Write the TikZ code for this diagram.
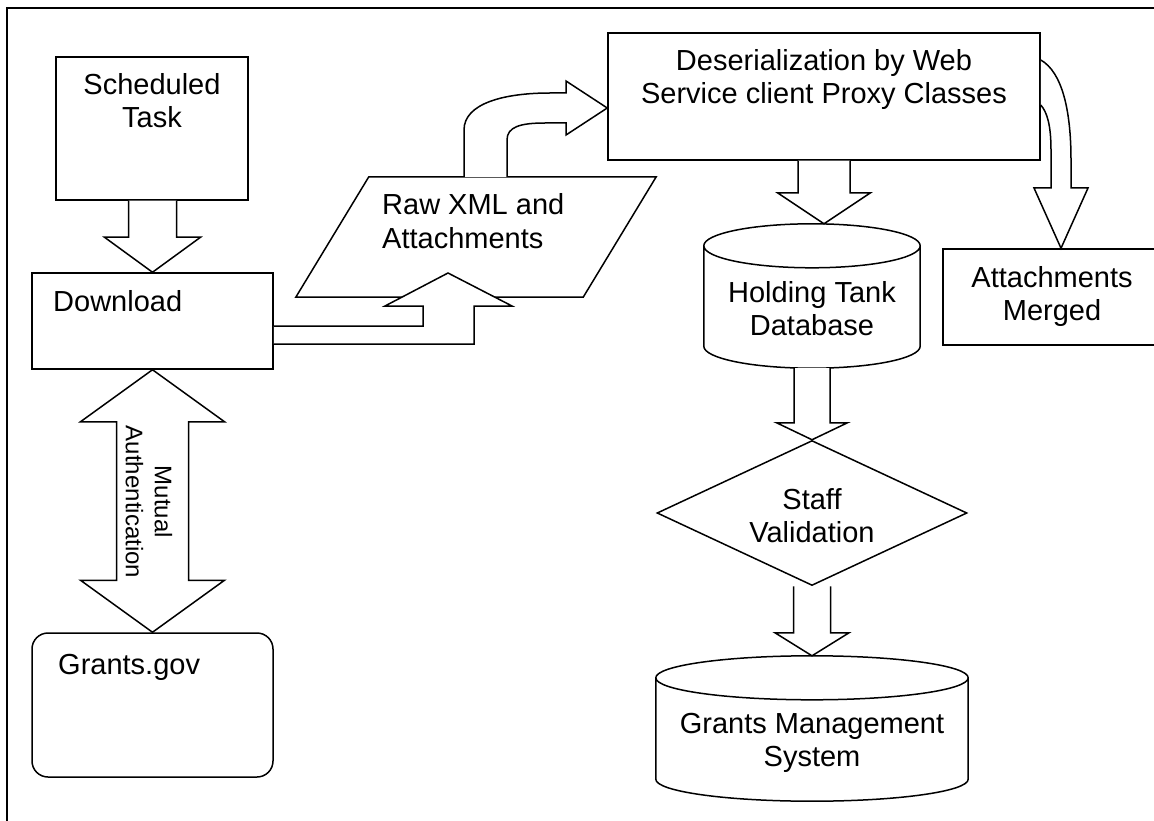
\documentclass[tikz,border=0pt]{standalone}
\usepackage{fontspec}
\setmainfont{Liberation Sans}
\usetikzlibrary{calc,shapes.geometric}
\tikzset{
  shp/.style={draw, line width=1.5pt, inner sep=0pt, fill=white},
  box/.style={shp, rectangle},
  ghost/.style={draw=none, inner sep=0pt, rectangle},
  barrow/.style={draw, fill=white, line width=1.5pt, line join=miter},
  txt/.style={font=\fontsize{29}{33}\selectfont, inner sep=0pt, align=center, anchor=base},
  ltxt/.style={font=\fontsize{29}{33}\selectfont, inner sep=0pt, align=left, anchor=base west},
  frame/.style={draw, line width=1.1pt},
}
% vertical block arrow from node anchor #1 down to node anchor #2
\newcommand\vblock[5]{%
  \draw[barrow] let \p1=(#1), \p2=(#2) in
    (\x2-#3pt,\y1) -- (\x2-#3pt,\y2+#5pt) -- (\x2-#4pt,\y2+#5pt) -- (\p2)
    -- (\x2+#4pt,\y2+#5pt) -- (\x2+#3pt,\y2+#5pt) -- (\x2+#3pt,\y1);}
% cylinder drawn in the frame of a ghost node
\newcommand\cyl[2]{%
  \draw[shp] let \p1=(#1.north west), \p2=(#1.south east), \n1={(\x2-\x1)/2} in
    (\x1,\y1-#2pt) -- (\x1,\y2+#2pt)
    arc[start angle=180, end angle=360, x radius=\n1, y radius=#2pt]
    -- (\x2,\y1-#2pt)
    arc[start angle=0, end angle=180, x radius=\n1, y radius=#2pt] -- cycle
    (\x1,\y1-#2pt) arc[start angle=180, end angle=360, x radius=\n1, y radius=#2pt];}

\begin{document}
\begin{tikzpicture}[x=1pt,y=1pt]
\useasboundingbox (0,0) rectangle (1154,-821);
\clip (0,0) rectangle (1154,-821);
\draw[frame] (7,-8) rectangle (1180,-840);

% shapes
\node[box, minimum width=192pt, minimum height=143pt] (sched) at (152,-128.5) {};
\node[box, minimum width=241pt, minimum height=96pt] (dl) at (152.5,-321) {};
\node[box, rounded corners=16pt, minimum width=241pt, minimum height=144pt] (grants) at (152.5,-705) {};
\node[ghost, minimum width=360pt, minimum height=120pt] (raw) at (476,-237) {};
\draw[shp] (raw.south west) -- ([xshift=-73pt]raw.south east) -- (raw.north east)
  -- ([xshift=73pt]raw.north west) -- cycle;
\node[box, minimum width=432pt, minimum height=127pt] (deser) at (824,-96.5) {};
\node[box, minimum width=218pt, minimum height=96pt] (merged) at (1052,-297) {};
\node[ghost, minimum width=216pt, minimum height=144pt] (tank) at (812,-296) {};
\cyl{tank}{22}
\node[shp, diamond, minimum width=310pt, minimum height=145pt] (staff) at (812,-513) {};
\node[ghost, minimum width=312pt, minimum height=145pt] (gms) at (812,-728.5) {};
\cyl{gms}{22}

% block arrows
\vblock{sched.south}{dl.north}{24}{48}{35}
\vblock{deser.south}{$(tank.north)+(12,0)$}{26}{46.5}{31}
\vblock{tank.south}{staff.north}{18}{35.5}{17}
\vblock{staff.south}{gms.north}{18.5}{37}{23}

% Download -> Raw XML (bent up arrow)
\draw[barrow] ([yshift=-5pt]dl.east) -- (423,-326) -- (423,-306) -- (385,-306) -- (448,-273)
  -- (512,-306) -- (474,-306) -- (474,-344) -- ([yshift=-23pt]dl.east);

% Raw XML -> Deserialization (curved arrow)
\draw[barrow] ([xshift=-12pt]raw.north) -- (464,-130) .. controls (464,-103) and (505,-93) .. (550,-93)
  -- (566,-93) -- (566,-81) -- ([yshift=-11.5pt]deser.west) -- (566,-135) -- (566,-123) -- (545,-123)
  .. controls (520,-123) and (507,-127) .. (507,-140) -- ([xshift=31pt]raw.north);

% Deserialization -> Attachments Merged (curved arrow)
\draw[barrow] ([yshift=36.5pt]deser.east) .. controls (1062,-72) and (1071,-110) .. (1071,-160) -- (1071,-188)
  -- (1088,-188) -- ([xshift=9pt]merged.north) -- (1034,-188) -- (1051,-188) -- (1051,-150)
  .. controls (1051,-125) and (1047,-112) .. ([yshift=-8.5pt]deser.east);

% Mutual authentication double arrow
\draw[barrow] let \p1=(dl.south), \p2=(grants.north) in
  (\p1) -- (\x1+72pt,\y1-52pt) -- (\x1+36pt,\y1-52pt) -- (\x1+36pt,\y2+52pt) -- (\x1+72pt,\y2+52pt)
  -- (\x1,\y2) -- (\x1-72pt,\y2+52pt) -- (\x1-36pt,\y2+52pt) -- (\x1-36pt,\y1-52pt)
  -- (\x1-72pt,\y1-52pt) -- cycle;

% texts (base anchor = baseline of last line)
\node[txt] (tsched) at (152,-128) {Scheduled\\Task};
\node[ltxt] (tdl) at (53,-311) {Download};
\node[ltxt] (traw) at (382,-248) {Raw XML and\\Attachments};
\node[txt] (tdeser) at (824,-104) {Deserialization by Web\\Service client Proxy Classes};
\node[txt] (ttank) at (812,-335) {Holding Tank\\Database};
\node[txt] (tstaff) at (812,-542) {Staff\\Validation};
\node[txt] (tgms) at (812,-766) {Grants Management\\System};
\node[txt] (tmerged) at (1052,-320) {Attachments\\Merged};
\node[ltxt] (tgrants) at (58,-674) {Grants.gov};
\node[font=\fontsize{24}{29}\selectfont, inner sep=0pt, align=center, rotate=-90] (tmutual) at (149,-502) {Mutual\\Authentication};
\end{tikzpicture}
\end{document}
